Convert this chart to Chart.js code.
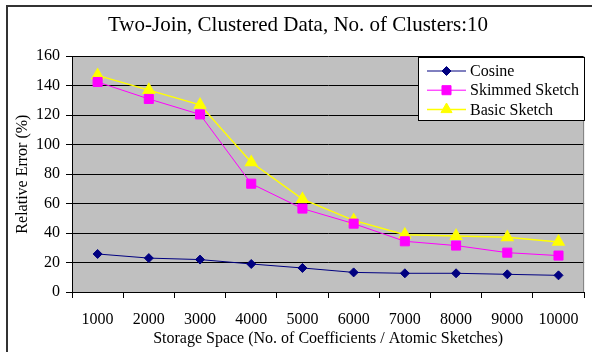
<!DOCTYPE html>
<html>
<head>
<meta charset="utf-8">
<script src="https://cdn.jsdelivr.net/npm/chart.js"></script>
<style>
  html, body { margin: 0; padding: 0; background: #fff; }
  canvas { display: block; }
</style>
</head>
<body>
<canvas id="errChart" width="592" height="352"></canvas>
<script>
// values
const storageSizes = ["1000", "2000", "3000", "4000", "5000", "6000", "7000", "8000", "9000", "10000"];
const cosineErr = [25.8, 23, 22, 19, 16.3, 13.3, 12.7, 12.7, 12, 11.3];
const skimmedErr = [142.5, 131, 120.5, 73.5, 56.6, 46.4, 34.4, 31.5, 26.7, 24.7];
const basicErr = [147, 137, 127, 88, 63, 48.6, 38.9, 38, 37.1, 34];

const serif = "'Liberation Serif', 'Times New Roman', serif";

// grey plot background, frame and the outer border
const framePlugin = {
    id: "frame",
    beforeDraw(chart) {
        const { ctx, chartArea: a } = chart;
        ctx.save();
        ctx.fillStyle = "#c0c0c0";
        ctx.fillRect(a.left, a.top, a.right - a.left, a.bottom - a.top);
        ctx.fillStyle = "#333";
        ctx.fillRect(6, 5, 586, 2);
        ctx.fillRect(6, 5, 2, 347);
        ctx.restore();
    },
    afterDatasetsDraw(chart) {
        const { ctx, chartArea: a } = chart;
        ctx.save();
        ctx.strokeStyle = "#808080";
        ctx.lineWidth = 1;
        ctx.beginPath();
        ctx.moveTo(a.right - 0.5, a.top);
        ctx.lineTo(a.right - 0.5, a.bottom);
        ctx.stroke();
        ctx.restore();
    }
};

// boxed legend sitting in the upper right corner of the plot
const boxLegend = {
    id: "boxLegend",
    afterDraw(chart) {
        const ctx = chart.ctx;
        const x = 418.5, y = 57.5, w = 166, h = 63;
        ctx.save();
        ctx.fillStyle = "#fff";
        ctx.fillRect(x, y, w, h);
        ctx.strokeStyle = "#000";
        ctx.lineWidth = 1;
        ctx.strokeRect(x, y, w, h);
        ctx.font = "16px " + serif;
        ctx.textBaseline = "middle";
        chart.data.datasets.forEach((ds, i) => {
            const ry = 71 + i * 19.2;
            ctx.strokeStyle = ds.borderColor;
            ctx.lineWidth = ds.borderWidth;
            ctx.beginPath();
            ctx.moveTo(427, ry);
            ctx.lineTo(466, ry);
            ctx.stroke();
            ctx.fillStyle = ds.pointBackgroundColor;
            ctx.strokeStyle = ds.borderColor;
            ctx.lineWidth = 1;
            Chart.helpers.drawPoint(ctx, { pointStyle: ds.pointStyle, radius: ds.pointRadius, rotation: 0, borderWidth: 1 }, 446.5, ry);
            ctx.fillStyle = "#000";
            ctx.fillText(ds.label, 470, ry + 1);
        });
        ctx.restore();
    }
};

new Chart(document.getElementById("errChart"), {
    type: "line",
    data: {
        labels: storageSizes,
        datasets: [{
            label: "Cosine",
            data: cosineErr,
            borderColor: "#000080",
            pointBackgroundColor: "#000080",
            borderWidth: 1,
            pointStyle: "rectRot",
            pointRadius: 4.5
        }, {
            label: "Skimmed Sketch",
            data: skimmedErr,
            borderColor: "#ff00ff",
            pointBackgroundColor: "#ff00ff",
            borderWidth: 1,
            pointStyle: "rect",
            pointRadius: 6.4
        }, {
            label: "Basic Sketch",
            data: basicErr,
            borderColor: "#ffff00",
            pointBackgroundColor: "#ffff00",
            borderWidth: 1.5,
            pointStyle: "triangle",
            pointRadius: 6.4
        }]
    },
    options: {
        responsive: false,
        devicePixelRatio: 1,
        animation: false,
        layout: { padding: { left: 8, right: 4, top: 0, bottom: 0 } },
        plugins: {
            legend: { display: false },
            tooltip: { enabled: false },
            title: {
                display: true,
                text: "Two-Join, Clustered Data, No. of Clusters:10",
                color: "#000",
                font: { family: serif, size: 21, weight: "normal" },
                padding: { top: 13, bottom: 18 }
            }
        },
        scales: {
            x: {
                offset: true,
                grid: {
                    offset: true,
                    drawOnChartArea: false,
                    drawTicks: true,
                    tickLength: 6,
                    color: "#000"
                },
                border: { color: "#000", width: 1 },
                ticks: {
                    color: "#000",
                    font: { family: serif, size: 16 },
                    padding: 12,
                    maxRotation: 0,
                    autoSkip: false
                },
                title: {
                    display: true,
                    text: "Storage Space (No. of Coefficients / Atomic Sketches)",
                    color: "#000",
                    font: { family: serif, size: 16 },
                    padding: { top: 0, bottom: 4 }
                },
                afterFit(scale) { scale.height = 60; }
            },
            y: {
                min: 0,
                max: 160,
                grid: {
                    color: "#000",
                    drawTicks: true,
                    tickLength: 6
                },
                border: { color: "#000", width: 1 },
                ticks: {
                    stepSize: 20,
                    color: "#000",
                    font: { family: serif, size: 16 },
                    padding: 6
                },
                title: {
                    display: true,
                    text: "Relative Error (%)",
                    color: "#000",
                    font: { family: serif, size: 16 },
                    padding: { top: 5, bottom: 0 }
                },
                afterFit(scale) { scale.width = 64; }
            }
        }
    },
    plugins: [framePlugin, boxLegend]
});
</script>
</body>
</html>
